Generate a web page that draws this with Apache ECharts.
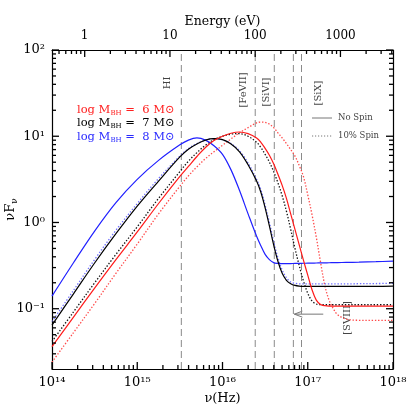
<!DOCTYPE html>
<html><head><meta charset="utf-8">
<script src="https://cdn.jsdelivr.net/npm/echarts@6/dist/echarts.min.js"></script>
<style>html,body{margin:0;padding:0;background:#fff}#c{width:415px;height:415px}</style>
</head><body><div id="c"></div>
<script>
// log10(nu/Hz) sample grid shared by all curves
const logNu = [14.0,14.25,14.5,14.75,15.0,15.25,15.5,15.6,15.7,15.8,15.9,16.0,16.1,16.2,16.3,16.4,16.45,16.5,16.55,16.6,16.65,16.7,16.75,16.8,16.85,16.9,16.95,17.0,17.05,17.1,17.15,17.2,17.25,17.3,17.35,17.45,17.6,17.8,18.0];
// log10(nuFnu)
const m8NoSpin = [-0.854,-0.47,-0.10,0.23,0.50,0.72,0.90,0.955,0.98,0.955,0.89,0.79,0.61,0.37,0.10,-0.16,-0.27,-0.37,-0.43,-0.465,-0.475,-0.478,-0.477,-0.476,-0.475,-0.474,-0.473,-0.472,-0.471,-0.47,-0.469,-0.468,-0.467,-0.466,-0.465,-0.463,-0.46,-0.455,-0.448];
const m8Spin   = [-1.15,-0.79,-0.43,-0.09,0.22,0.51,0.77,0.855,0.915,0.955,0.97,0.96,0.915,0.83,0.69,0.50,0.38,0.20,0.00,-0.22,-0.41,-0.55,-0.64,-0.69,-0.705,-0.712,-0.713,-0.713,-0.713,-0.713,-0.713,-0.713,-0.713,-0.713,-0.713,-0.712,-0.71,-0.708,-0.705];
const m7NoSpin = [-1.19,-0.83,-0.47,-0.13,0.19,0.48,0.76,0.85,0.91,0.955,0.972,0.96,0.91,0.82,0.67,0.48,0.35,0.17,-0.04,-0.26,-0.45,-0.59,-0.67,-0.71,-0.73,-0.738,-0.74,-0.74,-0.74,-0.74,-0.74,-0.74,-0.74,-0.74,-0.74,-0.74,-0.74,-0.74,-0.739];
const m7Spin   = [-1.38,-1.04,-0.70,-0.37,-0.05,0.28,0.59,0.71,0.81,0.895,0.96,1.00,1.025,1.03,1.00,0.93,0.87,0.79,0.70,0.59,0.46,0.31,0.13,-0.08,-0.30,-0.50,-0.68,-0.82,-0.91,-0.945,-0.952,-0.954,-0.954,-0.954,-0.954,-0.954,-0.954,-0.954,-0.954];
const m6NoSpin = [-1.44,-1.10,-0.76,-0.43,-0.11,0.22,0.535,0.65,0.765,0.87,0.95,1.00,1.035,1.049,1.03,0.98,0.93,0.86,0.78,0.68,0.56,0.43,0.28,0.10,-0.08,-0.26,-0.44,-0.61,-0.78,-0.90,-0.95,-0.965,-0.969,-0.969,-0.969,-0.969,-0.969,-0.969,-0.969];
const m6Spin   = [-1.62,-1.28,-0.94,-0.59,-0.25,0.10,0.42,0.54,0.645,0.74,0.82,0.895,0.97,1.04,1.10,1.155,1.164,1.16,1.14,1.10,1.04,0.98,0.915,0.845,0.77,0.66,0.53,0.32,0.09,-0.17,-0.46,-0.73,-0.90,-1.00,-1.07,-1.12,-1.134,-1.134,-1.134];

const lineNames = ['HI','[FeVII]','[SiVI]','[SVIII]','[SiX]'];
const lineNu = [3.29e15, 2.42e16, 4.05e16, 6.78e16, 8.45e16];
const massLabels = ['6','7','8'];
const spinLabels = ['No Spin','10% Spin'];
const xTickExp = [14,15,16,17,18];
const yTickExp = [-1,0,1,2];
const eTickLabels = ['1','10','100','1000'];

const X_MIN = 1e14, X_MAX = 1e18, Y_MIN = 0.02, Y_MAX = 100;
const HZ_PER_EV = 2.41799e14;
const E_MIN = X_MIN / HZ_PER_EV, E_MAX = X_MAX / HZ_PER_EV;
const FONT = 'DejaVu Serif';
const SUP = {'0':'⁰','1':'¹','2':'²','3':'³','4':'⁴','5':'⁵','6':'⁶','7':'⁷','8':'⁸','9':'⁹','-':'⁻'};
const sup = s => String(s).split('').map(c => SUP[c]).join('');
const isPow10 = v => Math.abs(Math.log10(v) - Math.round(Math.log10(v))) < 1e-6;

function minorList(e0, e1, lo, hi) {
  const out = [];
  for (let e = e0; e <= e1; e++) for (let k = 2; k <= 9; k++) {
    const v = k * Math.pow(10, e);
    if (v > lo * 1.0001 && v < hi * 0.9999) out.push(v);
  }
  return out;
}
const xMinor = minorList(14, 17, X_MIN, X_MAX);
const eMinor = minorList(-1, 3, E_MIN, E_MAX);
const yMinor = minorList(-2, 1, Y_MIN, Y_MAX);

const curveDefs = [
  {d: m6Spin, color: '#ff4a4a', dot: true},
  {d: m7Spin, color: '#111', dot: true},
  {d: m8Spin, color: '#6f6fff', dot: true},
  {d: m8NoSpin, color: '#2020ff', dot: false},
  {d: m7NoSpin, color: '#000', dot: false},
  {d: m6NoSpin, color: '#ff1a1a', dot: false}
];

function axisBase() {
  return {
    axisLine: {show: true, lineStyle: {color: '#000', width: 1.2}},
    axisTick: {show: false},
    splitLine: {show: false},
    minorTick: {show: false},
    nameMoveOverlap: false
  };
}

const series = curveDefs.map(c => ({
  type: 'line', xAxisIndex: 0, yAxisIndex: 0, z: 5,
  data: logNu.map((l, i) => [Math.pow(10, l), Math.pow(10, c.d[i])]),
  showSymbol: false, smooth: 0.35, silent: true,
  lineStyle: {color: c.color, width: c.dot ? 1.3 : 1.2, type: c.dot ? [1.4, 1.8] : 'solid'}
}));

// dashed vertical ionisation lines
series.push({
  type: 'custom', xAxisIndex: 0, yAxisIndex: 0, z: 2, silent: true,
  data: lineNu.map(v => [v, 1]),
  renderItem: (p, api) => {
    const x = api.coord([api.value(0), Y_MIN])[0];
    const y0 = api.coord([X_MIN, Y_MIN])[1], y1 = api.coord([X_MIN, Y_MAX])[1];
    return {type: 'line', shape: {x1: x, y1: y0, x2: x, y2: y1},
      style: {stroke: '#8a8a8a', lineWidth: 1, lineDash: [7, 4]}};
  }
});

const option = {
  animation: false,
  backgroundColor: '#fff',
  textStyle: {fontFamily: FONT},
  grid: {left: 52, right: 22, top: 50, bottom: 46, containLabel: false, outerBoundsMode: 'none'},
  xAxis: [
    Object.assign(axisBase(), {
      type: 'log', logBase: 10, min: X_MIN, max: X_MAX, position: 'bottom',
      name: 'ν(Hz)', nameLocation: 'middle', nameGap: 23,
      nameTextStyle: {fontFamily: FONT, fontSize: 13, color: '#000'},
      axisLabel: {margin: 7, fontFamily: FONT, fontSize: 13, color: '#000',
        formatter: v => isPow10(v) ? '10' + sup(Math.round(Math.log10(v))) : ''}
    }),
    Object.assign(axisBase(), {
      type: 'log', logBase: 10, min: E_MIN, max: E_MAX, position: 'top',
      name: 'Energy (eV)', nameLocation: 'middle', nameGap: 22,
      nameTextStyle: {fontFamily: FONT, fontSize: 12.5, color: '#000'},
      axisLabel: {margin: 8, fontFamily: FONT, fontSize: 12, color: '#000',
        formatter: v => isPow10(v) ? eTickLabels[Math.round(Math.log10(v))] || '' : ''}
    })
  ],
  yAxis: [
    Object.assign(axisBase(), {
      type: 'log', logBase: 10, min: Y_MIN, max: Y_MAX, position: 'left',
      name: '{a|νF}{s|ν}', nameLocation: 'middle', nameGap: 33,
      nameTextStyle: {fontFamily: FONT, fontSize: 13, color: '#000',
        rich: {a: {fontFamily: FONT, fontSize: 13, lineHeight: 16, color: '#000'},
               s: {fontFamily: FONT, fontSize: 9, lineHeight: 16, verticalAlign: 'bottom', color: '#000'}}},
      axisLabel: {margin: 7, fontFamily: FONT, fontSize: 13, color: '#000',
        formatter: v => isPow10(v) ? '10' + sup(Math.round(Math.log10(v))) : ''}
    }),
    Object.assign(axisBase(), {
      type: 'log', logBase: 10, min: Y_MIN, max: Y_MAX, position: 'right',
      axisLabel: {show: false}
    })
  ],
  series: series
};

const chart = echarts.init(document.getElementById('c'), null, {renderer: 'canvas'});
chart.setOption(option);

const toPx = (x, y) => chart.convertToPixel({xAxisIndex: 0, yAxisIndex: 0}, [x, y]);
const ePx = e => toPx(e * HZ_PER_EV, 1)[0];
const graphics = [];
// ticks on their own layer, drawn above everything else
function tickV(x, y, len) {
  graphics.push({type: 'line', zlevel: 1, z: 100,
    shape: {x1: x, y1: y, x2: x, y2: y + len}, style: {stroke: '#000', lineWidth: 1.3}});
}
function tickH(x, y, len) {
  graphics.push({type: 'line', zlevel: 1, z: 100,
    shape: {x1: x, y1: y, x2: x + len, y2: y}, style: {stroke: '#000', lineWidth: 1.3}});
}
const yBot = toPx(X_MIN, Y_MIN)[1], yTop = toPx(X_MIN, Y_MAX)[1];
const xLeft = toPx(X_MIN, Y_MIN)[0], xRight = toPx(X_MAX, Y_MIN)[0];
const MAJ = 7, MINL = 4;
xTickExp.forEach(e => tickV(toPx(Math.pow(10, e), 1)[0], yBot, -MAJ));
xMinor.forEach(v => tickV(toPx(v, 1)[0], yBot, -MINL));
eTickLabels.forEach(s => tickV(ePx(Number(s)), yTop, MAJ));
eMinor.forEach(v => tickV(ePx(v), yTop, MINL));
yTickExp.forEach(e => { const y = toPx(X_MIN, Math.pow(10, e))[1]; tickH(xLeft, y, MAJ); tickH(xRight, y, -MAJ); });
yMinor.forEach(v => { const y = toPx(X_MIN, v)[1]; tickH(xLeft, y, MINL); tickH(xRight, y, -MINL); });

// ionisation line labels (rotated)
const lblDx = [-14, -12, -8, 54, 17];
const lblY = [83, 90, 92, 318, 93];
lineNames.forEach((n, i) => {
  const x = toPx(lineNu[i], 1)[0] + lblDx[i];
  graphics.push({type: 'text', x: x, y: lblY[i], rotation: Math.PI / 2,
    style: {text: n, fontFamily: FONT, fontSize: 10, fill: '#444', align: 'center', verticalAlign: 'middle'}});
});
// arrow toward [SVIII] line
const aTip = toPx(lineNu[3], 0.0865), aTail = toPx(1.52e17, 0.0865);
graphics.push({type: 'polyline', shape: {points: [[aTail[0], aTail[1]], [aTip[0] + 1, aTip[1]]]},
  style: {stroke: '#777', lineWidth: 1, fill: null}});
graphics.push({type: 'polyline',
  shape: {points: [[aTip[0] + 9, aTip[1] - 3], [aTip[0] + 1, aTip[1]], [aTip[0] + 9, aTip[1] + 3]]},
  style: {stroke: '#777', lineWidth: 1, fill: null}});
// mass legend
const massColors = ['#ff2020', '#000', '#2a2aff'];
const massY = [110, 123.5, 137];
massLabels.forEach((m, i) => {
  graphics.push({type: 'text', x: 77, y: massY[i],
    style: {text: '{t|log M}{s|BH}{t| = }{t| ' + m + ' M⊙}', fill: massColors[i], verticalAlign: 'middle',
      rich: {t: {fontFamily: FONT, fontSize: 11.5, lineHeight: 13, fill: massColors[i]},
             s: {fontFamily: FONT, fontSize: 7, lineHeight: 8, verticalAlign: 'bottom', fill: massColors[i]}}}});
});
// spin legend
const spinY = [118, 136];
spinLabels.forEach((s, i) => {
  graphics.push({type: 'line', shape: {x1: 312, y1: spinY[i], x2: 332, y2: spinY[i]},
    style: {stroke: '#777', lineWidth: 1, lineDash: i ? [1.2, 1.8] : null}});
  graphics.push({type: 'text', x: 338, y: spinY[i],
    style: {text: s, fontFamily: FONT, fontSize: 8.5, fill: '#444', verticalAlign: 'middle'}});
});
chart.setOption({graphic: graphics});
</script>
</body></html>
